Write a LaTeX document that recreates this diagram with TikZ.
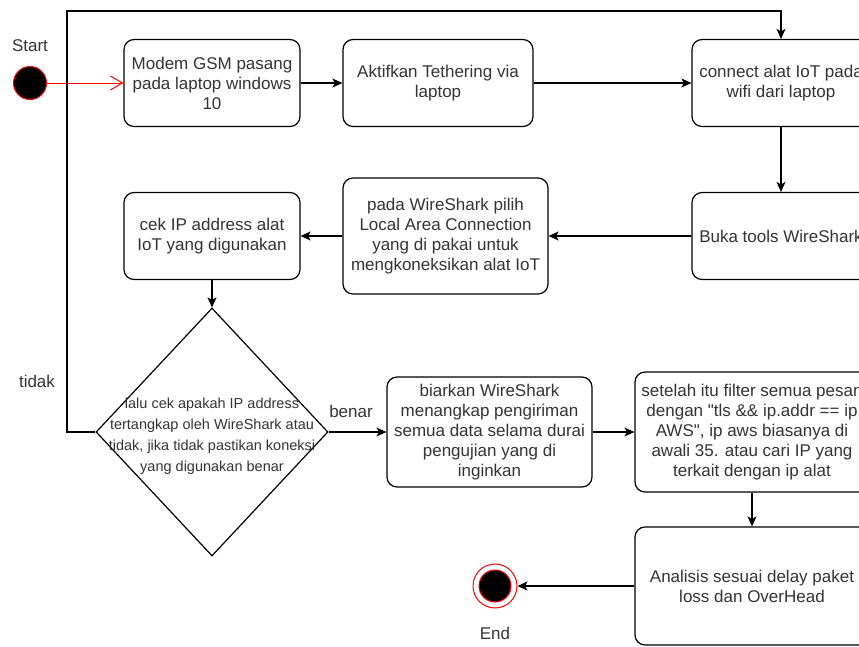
\documentclass[tikz,border=0pt]{standalone}
\usepackage{fontspec}
\setmainfont{Liberation Sans}[Ligatures=TeXOff]
\usetikzlibrary{shapes.geometric,arrows.meta}

\begin{document}
\begin{tikzpicture}[x=1pt,y=-1pt,
  actbox/.style={draw,rounded corners=10pt,line width=1.2pt,align=center,
    text=black!80,font=\fontsize{17}{20}\selectfont,inner sep=2pt},
  lbl/.style={text=black!80,font=\fontsize{17}{20}\selectfont},
  flow/.style={line width=1.2pt,-{Stealth[length=10pt,width=9pt,inset=2.5pt]}}]
\useasboundingbox (0,0) rectangle (859,646);
\clip (0,0) rectangle (859,646);

% Start
\node (start) [circle,fill=black,draw=red,line width=1pt,minimum size=33pt,inner sep=0pt] at (30,83) {};
\node (startlbl) [lbl] at (30,46) {Start};

% Top row
\node (modem) [actbox,minimum width=176pt,minimum height=87pt] at (212,83) {Modem GSM pasang\\pada laptop windows\\10};
\node (teth) [actbox,minimum width=190pt,minimum height=87pt] at (438,83) {Aktifkan Tethering via\\laptop};
\node (conn) [actbox,minimum width=178pt,minimum height=87pt] at (781,83) {connect alat IoT pada\\wifi dari laptop};

% Second row
\node (buka) [actbox,minimum width=178pt,minimum height=87pt] at (781,236) {Buka tools WireShark};
\node (pilih) [actbox,minimum width=205pt,minimum height=116pt] at (445.5,236) {pada WireShark pilih\\Local Area Connection\\yang di pakai untuk\\mengkoneksikan alat IoT};
\node (cekip) [actbox,minimum width=176pt,minimum height=87pt] at (212,236) {cek IP address alat\\IoT yang digunakan};

% Decision
\node (dec) [diamond,draw,line width=1.2pt,minimum width=232pt,minimum height=248pt,inner sep=0pt] at (212,432) {};
\node (dectxt) [align=center,text=black!80,font=\fontsize{14.5}{21}\selectfont] at (212,436) {lalu cek apakah IP address\\tertangkap oleh WireShark atau\\tidak, jika tidak pastikan koneksi\\yang digunakan benar};
\node (tidak) [lbl] at (37,381) {tidak};
\node (benar) [lbl] at (351,411) {benar};

% Third row
\node (biar) [actbox,minimum width=205pt,minimum height=110pt] at (489.5,432) {biarkan WireShark\\menangkap pengiriman\\semua data selama durai\\pengujian yang di\\inginkan};
\node (filt) [actbox,minimum width=234pt,minimum height=120pt] at (752,432) {setelah itu filter semua pesan\\dengan "tls \&\& ip.addr == ip\\AWS", ip aws biasanya di\\awali 35. atau cari IP yang\\terkait dengan ip alat};
\node (anal) [actbox,minimum width=234pt,minimum height=118pt] at (752,586) {Analisis sesuai delay paket\\loss dan OverHead};

% End
\node (endout) [circle,draw=red,fill=white,line width=1pt,minimum size=44pt,inner sep=0pt] at (495,586) {};
\node (enddot) [circle,fill=black,draw=red,line width=1pt,minimum size=32pt,inner sep=0pt] at (endout.center) {};
\node (endlbl) [lbl] at (495,633) {End};

% Connectors
\draw[red,line width=1pt,-{Straight Barb[length=12pt,width=14pt]}] (start) -- (modem);
\draw[flow] (modem) -- (teth);
\draw[flow] (teth) -- (conn);
\draw[flow] (conn) -- (buka);
\draw[flow] (buka) -- (pilih);
\draw[flow] (pilih) -- (cekip);
\draw[flow] (cekip) -- (dec);
\draw[flow] (dec) -- (biar);
\draw[flow] (biar) -- (filt);
\draw[flow] (filt) -- (anal);
\draw[flow] (anal) -- (endout);
\coordinate (loopcorner) at (67,11);
\draw[flow] (dec.west) -| (loopcorner) -| (conn.north);
\end{tikzpicture}
\end{document}
